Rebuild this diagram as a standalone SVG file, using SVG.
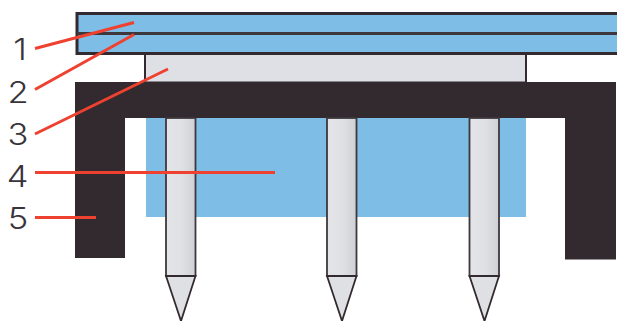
<svg xmlns="http://www.w3.org/2000/svg" width="617" height="321" viewBox="0 0 617 321">
<defs>
<linearGradient id="pin" x1="0" y1="0" x2="1" y2="0"><stop offset="0" stop-color="#e4e5e9"/><stop offset="0.55" stop-color="#dfe0e4"/><stop offset="1" stop-color="#cfd0d5"/></linearGradient>
<g id="pinShape">
<rect x="0" y="0" width="29.500" height="158" fill="url(#pin)" stroke="#3e373b" stroke-width="1.800"/>
<path d="M0 158H29.500L15 203L0 158Z" fill="#dfe0e4" stroke="#322a2e" stroke-width="1.800"/>
</g>
</defs>
<style>
.lbl{font-family:"Inter","Liberation Sans",sans-serif;font-weight:300;font-size:30px;fill:#38343a;text-anchor:middle}
.ln{stroke:#ef4130;stroke-width:3;fill:none}
.dk{fill:#322a2e}
</style>
<rect width="617" height="321" fill="#fff"/>
<g id="blue-block"><rect x="146" y="118" width="380" height="99" fill="#7dbde6"/></g>
<g id="plate"><rect x="145" y="54" width="381" height="28.500" fill="#dfe0e5" stroke="#322a2e" stroke-width="2"/></g>
<g id="top-bar">
<rect x="77" y="13.500" width="545" height="40" fill="#7dbde6" stroke="#322a2e" stroke-width="3"/>
<line x1="77" y1="33.500" x2="617" y2="33.500" stroke="#3e373c" stroke-width="3"/>
</g>
<g id="frame"><path class="dk" d="M75 82H616V259.500H565V118H125V258H75Z"/></g>
<g id="pin-1"><use href="#pinShape" x="166" y="118"/></g>
<g id="pin-2"><use href="#pinShape" x="327" y="118"/></g>
<g id="pin-3"><use href="#pinShape" x="469.500" y="118"/></g>
<g id="connectors">
<line class="ln" x1="35" y1="48.500" x2="134" y2="22.500"/>
<line class="ln" x1="35" y1="89.500" x2="134" y2="34.500"/>
<line class="ln" x1="35" y1="134" x2="168" y2="69"/>
<line class="ln" x1="35" y1="172.500" x2="275" y2="172.500"/>
<line class="ln" x1="35" y1="217.500" x2="96" y2="217.500"/>
</g>
<g id="label-1"><text class="lbl" transform="translate(20 60) scale(1.150 1)">1</text></g>
<g id="label-2"><text class="lbl" transform="translate(18 102.500) scale(1.150 1)">2</text></g>
<g id="label-3"><text class="lbl" transform="translate(18 145) scale(1.150 1)">3</text></g>
<g id="label-4"><text class="lbl" transform="translate(17.500 187) scale(1.150 1)">4</text></g>
<g id="label-5"><text class="lbl" transform="translate(18 229) scale(1.150 1)">5</text></g>
</svg>
